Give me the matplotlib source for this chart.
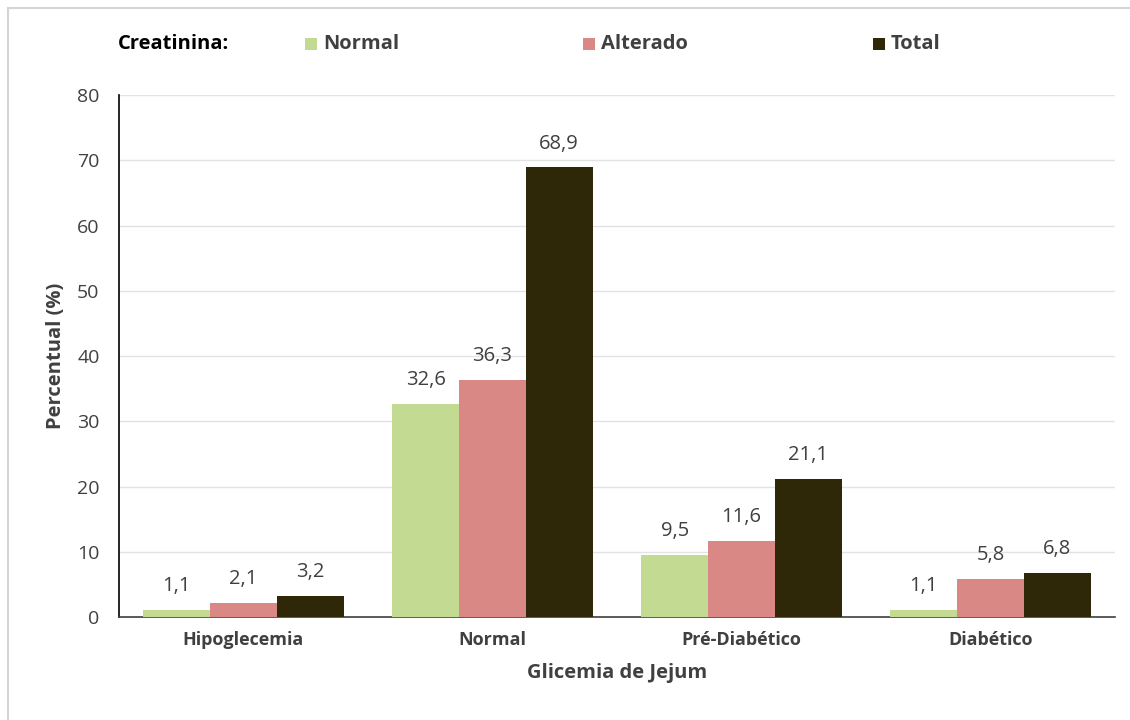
import matplotlib
matplotlib.use("Agg")
import matplotlib.pyplot as plt
from matplotlib.patches import Rectangle
from matplotlib.lines import Line2D
import numpy as np

categories = ["Hipoglecemia", "Normal", "Pré-Diabético", "Diabético"]
normal = [1.1, 32.6, 9.5, 1.1]
alterado = [2.1, 36.3, 11.6, 5.8]
total = [3.2, 68.9, 21.1, 6.8]
series_names = ["Normal", "Alterado", "Total"]
colors = ["#c3da92", "#da8885", "#2f2808"]
yticks = [0, 10, 20, 30, 40, 50, 60, 70, 80]

plt.rcParams["font.family"] = ["Open Sans", "DejaVu Sans"]

W, H = 1130, 720
fig = plt.figure(figsize=(W / 100, H / 100), dpi=100)
ax = fig.add_axes([0.1053, 0.143, 0.8814, 0.725])

# light frame lines along the top and left edges
fig.lines.append(Line2D([8 / W, 1], [1 - 8 / H, 1 - 8 / H], transform=fig.transFigure,
                        color="#d4d4d4", linewidth=1.5))
fig.lines.append(Line2D([8 / W, 8 / W], [0, 1 - 8 / H], transform=fig.transFigure,
                        color="#d4d4d4", linewidth=1.5))

x = np.arange(len(categories))
w = 0.268
for i, (vals, c) in enumerate(zip([normal, alterado, total], colors)):
    pos = x + (i - 1) * w
    bars = ax.bar(pos, vals, w, color=c, zorder=3)
    for b, v in zip(bars, vals):
        ax.annotate(f"{v:.1f}".replace(".", ","), (b.get_x() + b.get_width() / 2, v),
                    xytext=(0, 10), textcoords="offset points",
                    ha="center", va="bottom", fontsize=14.5, color="#404040")

ax.set_xlim(-0.5, 3.5)
ax.set_ylim(0, 80)
ax.set_yticks(yticks)
ax.set_yticklabels([str(t) for t in yticks], fontsize=14, color="#404040")
ax.set_xticks(x)
ax.set_xticklabels(categories, fontsize=13, fontweight="bold", color="#404040")
ax.tick_params(axis="both", length=0, pad=10)
ax.tick_params(axis="y", pad=14)
ax.grid(axis="y", color="#e3e3e3", linewidth=1, zorder=0)
for s in ["top", "right"]:
    ax.spines[s].set_visible(False)
ax.spines["left"].set_color("black")
ax.spines["bottom"].set_color("#404040")
ax.spines["left"].set_linewidth(1.2)
ax.spines["bottom"].set_linewidth(1.2)

ax.set_ylabel("Percentual (%)", fontsize=14.5, fontweight="bold", color="#404040", labelpad=8)
ax.set_xlabel("Glicemia de Jejum", fontsize=14.5, fontweight="bold", color="#404040", labelpad=10)

# legend row
legend_y = 1 - 44 / H
fig.text(118 / W, legend_y, "Creatinina:", fontsize=14.5, fontweight="bold",
         color="black", ha="left", va="center")
square_x = [305, 583, 873]
sq = 12
for sx, c, name in zip(square_x, colors, series_names):
    fig.patches.append(Rectangle((sx / W, legend_y - sq / 2 / H), sq / W, sq / H,
                                 transform=fig.transFigure, facecolor=c, edgecolor="none"))
    fig.text((sx + sq + 6) / W, legend_y, name, fontsize=14.5, fontweight="bold",
             color="#404040", ha="left", va="center")

fig.savefig("out.png", dpi=100)
